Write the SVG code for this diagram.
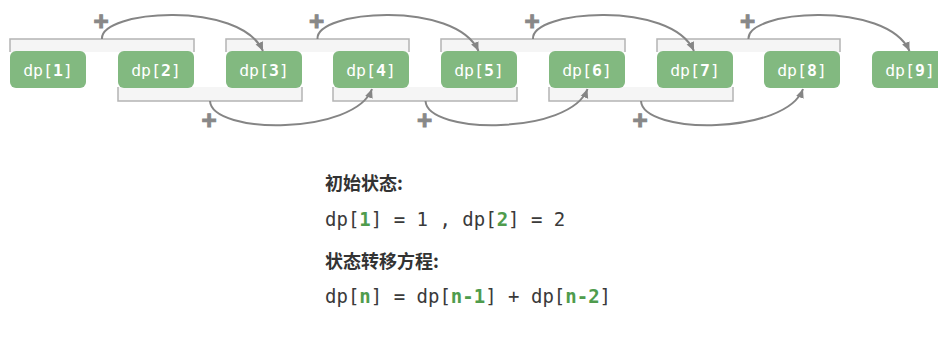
<svg xmlns="http://www.w3.org/2000/svg" width="938" height="339" viewBox="0 0 938 339">
<defs>
<style>
.box{fill:#82b980;}
.bt{font-family:"DejaVu Sans Mono","Liberation Mono",monospace;font-size:16.5px;fill:#ffffff;text-anchor:middle;}
.b{font-weight:bold;}
.brk-fill{fill:#f5f5f5;stroke:none;}
.brk{fill:none;stroke:#b4b4b4;stroke-width:1.5;}
.arc{fill:none;stroke:#858585;stroke-width:2;}
.plus{font-family:"Liberation Sans",Arial,sans-serif;font-weight:bold;font-size:26px;fill:#888888;stroke:#888888;stroke-width:1;text-anchor:middle;}
.title{font-family:"Noto Sans CJK SC","Noto Sans",sans-serif;font-weight:bold;font-size:18px;fill:#333333;}
.code{font-family:"DejaVu Sans Mono","Liberation Mono",monospace;font-size:19px;fill:#3a3a3a;}
.g{fill:#4f9c4d;font-weight:bold;}
</style>
<marker id="ah" markerWidth="10" markerHeight="10" refX="9" refY="5" orient="auto" markerUnits="userSpaceOnUse">
<path d="M0,1 L9,5 L0,9 Z" fill="#858585"/>
</marker>
</defs>
<rect width="938" height="339" fill="#ffffff"/>

<g id="brackets">
<g id="top-brackets">
<rect class="brk-fill" x="10" y="39" width="184" height="13"/>
<path class="brk" d="M10,52 V39 H194 V52"/>
<rect class="brk-fill" x="226" y="39" width="183" height="13"/>
<path class="brk" d="M226,52 V39 H409 V52"/>
<rect class="brk-fill" x="441" y="39" width="184" height="13"/>
<path class="brk" d="M441,52 V39 H625 V52"/>
<rect class="brk-fill" x="657" y="39" width="183" height="13"/>
<path class="brk" d="M657,52 V39 H840 V52"/>
</g>
<g id="bottom-brackets">
<rect class="brk-fill" x="118" y="87" width="184" height="14"/>
<path class="brk" d="M118,87 V101 H302 V87"/>
<rect class="brk-fill" x="333" y="87" width="184" height="14"/>
<path class="brk" d="M333,87 V101 H517 V87"/>
<rect class="brk-fill" x="549" y="87" width="184" height="14"/>
<path class="brk" d="M549,87 V101 H733 V87"/>
</g>
</g>

<g id="n1"><rect class="box" x="10" y="51" width="76" height="37" rx="6"/><text class="bt" x="48" y="75.5">dp[<tspan class="b">1</tspan>]</text></g>
<g id="n2"><rect class="box" x="118" y="51" width="76" height="37" rx="6"/><text class="bt" x="156" y="75.5">dp[<tspan class="b">2</tspan>]</text></g>
<g id="n3"><rect class="box" x="226" y="51" width="76" height="37" rx="6"/><text class="bt" x="264" y="75.5">dp[<tspan class="b">3</tspan>]</text></g>
<g id="n4"><rect class="box" x="333" y="51" width="76" height="37" rx="6"/><text class="bt" x="371" y="75.5">dp[<tspan class="b">4</tspan>]</text></g>
<g id="n5"><rect class="box" x="441" y="51" width="76" height="37" rx="6"/><text class="bt" x="479" y="75.5">dp[<tspan class="b">5</tspan>]</text></g>
<g id="n6"><rect class="box" x="549" y="51" width="76" height="37" rx="6"/><text class="bt" x="587" y="75.5">dp[<tspan class="b">6</tspan>]</text></g>
<g id="n7"><rect class="box" x="657" y="51" width="76" height="37" rx="6"/><text class="bt" x="695" y="75.5">dp[<tspan class="b">7</tspan>]</text></g>
<g id="n8"><rect class="box" x="764" y="51" width="76" height="37" rx="6"/><text class="bt" x="802" y="75.5">dp[<tspan class="b">8</tspan>]</text></g>
<g id="n9"><rect class="box" x="872" y="51" width="76" height="37" rx="6"/><text class="bt" x="910" y="75.5">dp[<tspan class="b">9</tspan>]</text></g>

<g id="connectors">
<path class="arc" marker-end="url(#ah)" d="M102,39 C100,10 240,0 263,51"/>
<path class="arc" marker-end="url(#ah)" d="M317.5,39 C315.5,10 455.5,0 478.5,51"/>
<path class="arc" marker-end="url(#ah)" d="M533,39 C531,10 671,0 694,51"/>
<path class="arc" marker-end="url(#ah)" d="M748.5,39 C746.5,10 886.5,0 909.5,51"/>
<path class="arc" marker-end="url(#ah)" d="M210,101 C212,135 355,135 372,89"/>
<path class="arc" marker-end="url(#ah)" d="M425.5,101 C427.5,135 570.5,135 587.5,89"/>
<path class="arc" marker-end="url(#ah)" d="M641,101 C643,135 786,135 803,89"/>
<text class="plus" x="101" y="29.5">+</text>
<text class="plus" x="316.5" y="29.5">+</text>
<text class="plus" x="532" y="29.5">+</text>
<text class="plus" x="747.5" y="29.5">+</text>
<text class="plus" x="209" y="129">+</text>
<text class="plus" x="424.5" y="129">+</text>
<text class="plus" x="640" y="129">+</text>
</g>

<g id="formula">
<text class="title" x="325" y="190">初始状态:</text>
<text class="code" x="325" y="226">dp[<tspan class="g">1</tspan>] = 1 , dp[<tspan class="g">2</tspan>] = 2</text>
<text class="title" x="325" y="268">状态转移方程:</text>
<text class="code" x="325" y="303">dp[<tspan class="g">n</tspan>] = dp[<tspan class="g">n-1</tspan>] + dp[<tspan class="g">n-2</tspan>]</text>
</g>
</svg>
